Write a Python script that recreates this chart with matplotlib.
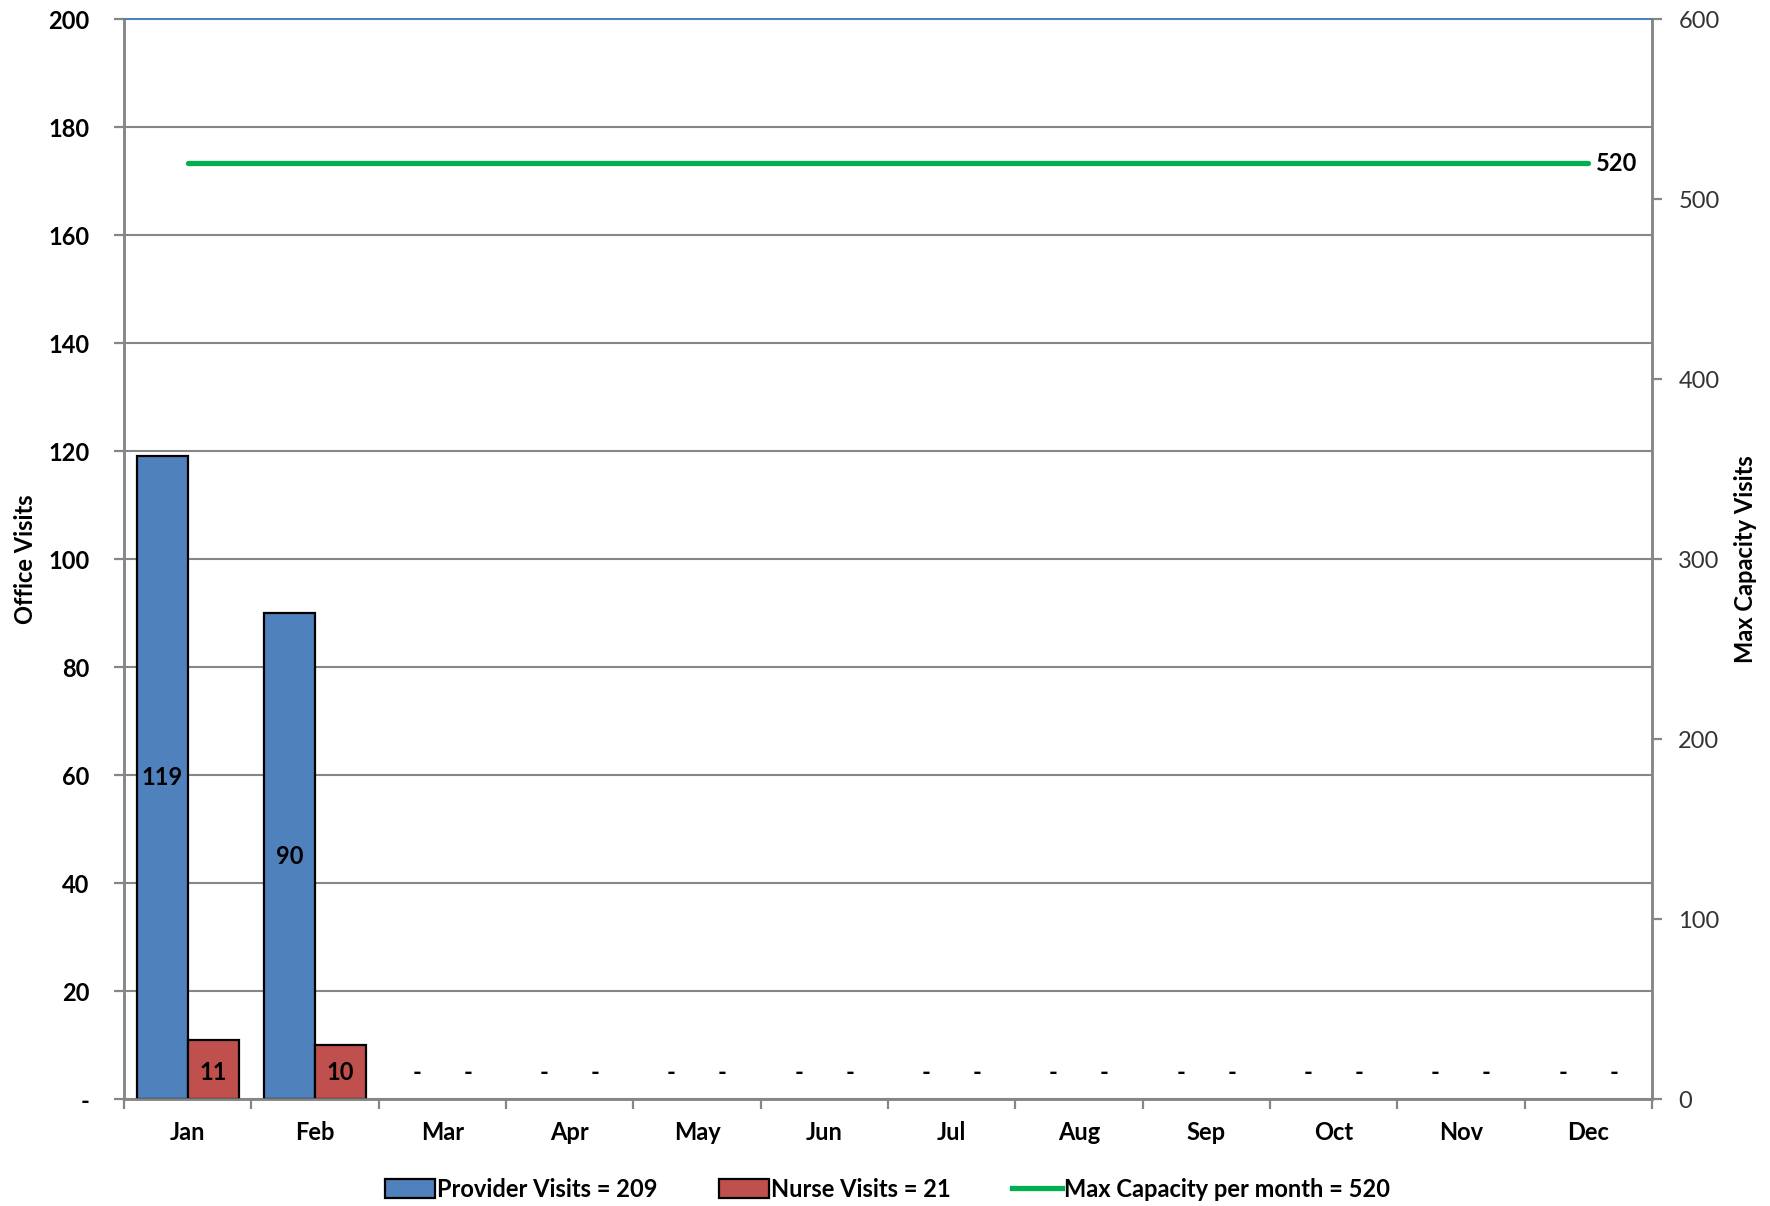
import matplotlib
matplotlib.use("Agg")
import matplotlib.pyplot as plt
import numpy as np
from matplotlib.patches import Patch
from matplotlib.lines import Line2D

plt.rcParams['font.family'] = ['Lato', 'DejaVu Sans']

months = ["Jan", "Feb", "Mar", "Apr", "May", "Jun",
          "Jul", "Aug", "Sep", "Oct", "Nov", "Dec"]
provider_visits = [119, 90, 0, 0, 0, 0, 0, 0, 0, 0, 0, 0]
nurse_visits = [11, 10, 0, 0, 0, 0, 0, 0, 0, 0, 0, 0]
max_capacity = [520] * 12

left_ticks = list(range(0, 201, 20))
right_ticks = list(range(0, 601, 100))

blue = "#4F81BD"
red = "#C0504D"
green = "#00B050"
axis_gray = "#868686"
fs = 17

fig = plt.figure(figsize=(17.7, 12.06), dpi=100)
ax = fig.add_axes([0.0701, 0.0887, 0.8632, 0.8955])
ax2 = ax.twinx()

x = np.arange(len(months))
w = 0.40

bars_p = ax.bar(x - w, provider_visits, width=w, align='edge', color=blue,
                edgecolor='black', linewidth=1.6, zorder=3)
bars_n = ax.bar(x, nurse_visits, width=w, align='edge', color=red,
                edgecolor='black', linewidth=1.6, zorder=3)
# empty months have no visible bar
for b, v in list(zip(bars_p, provider_visits)) + list(zip(bars_n, nurse_visits)):
    if v == 0:
        b.set_visible(False)

# value labels
for xi, v in zip(x, provider_visits):
    cx = xi - w / 2
    if v:
        ax.text(cx, v / 2, f"{v}", ha='center', va='center', fontsize=fs,
                fontweight='bold', zorder=5)
    else:
        ax.text(cx, 5, "-", ha='center', va='center', fontsize=fs,
                fontweight='bold', zorder=5)
for xi, v in zip(x, nurse_visits):
    cx = xi + w / 2
    if v:
        ax.text(cx, 5, f"{v}", ha='center', va='center', fontsize=fs,
                fontweight='bold', zorder=5)
    else:
        ax.text(cx, 5, "-", ha='center', va='center', fontsize=fs,
                fontweight='bold', zorder=5)

ax.set_xlim(-0.5, len(months) - 0.5)
ax.set_ylim(0, 200)
ax.set_yticks(left_ticks)
ax.set_yticklabels(["-"] + [str(t) for t in left_ticks[1:]],
                   fontsize=fs, fontweight='bold')
ax.yaxis.grid(True, color=axis_gray, linewidth=1.5, zorder=0)
ax.set_axisbelow(True)

ax.set_xticks(x)
ax.set_xticklabels(months, fontsize=fs, fontweight='bold')
ax.set_xticks(np.arange(-0.5, len(months), 1.0), minor=True)
ax.tick_params(axis='x', which='major', length=0, pad=16)
ax.tick_params(axis='x', which='minor', length=7, width=1.6,
               color=axis_gray, direction='out')
ax.tick_params(axis='y', length=7, width=1.6, color=axis_gray,
               direction='out', pad=18)

ax.set_ylabel("Office Visits", fontsize=fs, fontweight='bold', labelpad=8)

# secondary axis: capacity line
ax2.plot(x, max_capacity, color=green, linewidth=3.8,
         solid_capstyle='round', zorder=4)
ax2.text(x[-1] + 0.06, max_capacity[-1], f"{max_capacity[-1]}",
         ha='left', va='center', fontsize=fs, fontweight='bold')
ax2.set_ylim(0, 600)
ax2.set_yticks(right_ticks)
ax2.set_yticklabels([str(t) for t in right_ticks], fontsize=fs,
                    color='#333333')
ax2.tick_params(axis='y', length=7, width=1.6, color=axis_gray,
                direction='out', pad=12)
ax2.set_ylabel("Max Capacity Visits", fontsize=fs, fontweight='bold',
               labelpad=10)

for a in (ax, ax2):
    for side in ('left', 'right', 'bottom'):
        a.spines[side].set_color(axis_gray)
        a.spines[side].set_linewidth(1.8)
    a.spines['top'].set_color(blue)
    a.spines['top'].set_linewidth(1.4)

handles = [
    Patch(facecolor=blue, edgecolor='black', linewidth=1.6,
          label=f"Provider Visits = {sum(provider_visits)}"),
    Patch(facecolor=red, edgecolor='black', linewidth=1.6,
          label=f"Nurse Visits = {sum(nurse_visits)}"),
    Line2D([0], [0], color=green, linewidth=3.8,
           label=f"Max Capacity per month = {max_capacity[0]}"),
]
fig.legend(handles=handles, loc='center', bbox_to_anchor=(0.5015, 0.014),
           ncol=3, frameon=False, prop={'size': fs, 'weight': 'bold'},
           handlelength=2.1, handleheight=0.9, handletextpad=0.1,
           columnspacing=2.6)

fig.savefig("out.png", dpi=100)
